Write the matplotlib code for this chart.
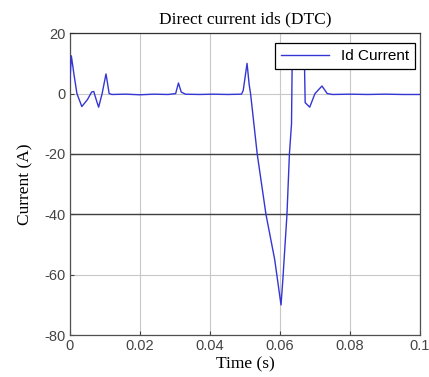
import matplotlib
matplotlib.use("Agg")
import matplotlib.pyplot as plt

plt.rcParams["axes.unicode_minus"] = False

# Data
t = [0.0, 0.0004, 0.0012, 0.002, 0.0034, 0.005, 0.0062, 0.0068, 0.0075, 0.0082,
     0.0092, 0.0103, 0.0108, 0.0112, 0.012, 0.016, 0.02, 0.024, 0.028,
     0.0302, 0.031, 0.0318, 0.033, 0.037, 0.041, 0.045, 0.049,
     0.0495, 0.0506, 0.0512, 0.0516, 0.0535, 0.056, 0.0585, 0.0603,
     0.0608, 0.0620, 0.0627, 0.0633, 0.0635, 0.0645, 0.066, 0.0670,
     0.0672, 0.0685, 0.0700, 0.0720, 0.0735, 0.075, 0.08, 0.085, 0.09, 0.095, 0.1]
id_current = [4, 12.5, 6, 0, -4.3, -2, 0.5, 0.7, -2, -4.5,
              0, 6.5, 3, 0, -0.3, -0.2, -0.4, -0.2, -0.3,
              0, 3.5, 0.5, -0.2, -0.3, -0.2, -0.3, -0.2,
              1, 10, 3, 0, -20, -40, -55, -70,
              -62, -40, -20, -10, 12, 16, 14, 10,
              -3, -4.5, 0, 2.5, 0, -0.3, -0.2, -0.3, -0.2, -0.3, -0.3]

xticks = [0, 0.02, 0.04, 0.06, 0.08, 0.1]
xticklabels = ["0", "0.02", "0.04", "0.06", "0.08", "0.1"]
yticks = [-80, -60, -40, -20, 0, 20]

fig = plt.figure(figsize=(4.29, 3.77), dpi=100)
ax = fig.add_axes([0.163, 0.111, 0.816, 0.801])

serif = ["Liberation Serif", "DejaVu Serif"]
sans = ["Liberation Sans", "DejaVu Sans"]

ax.plot(t, id_current, color="#3535d5", lw=1.0, label="Id Current", zorder=3)
ax.set_xlim(0, 0.1)
ax.set_ylim(-80, 20)
ax.set_xticks(xticks)
ax.set_xticklabels(xticklabels)
ax.set_yticks(yticks)
ax.grid(True, color="#c8c8c8", lw=0.8)
for yv in (-20, -40):
    ax.axhline(yv, color="#404040", lw=1.0, zorder=2)
ax.tick_params(direction="in", labelsize=10.5, colors="#404040", length=3, pad=3)
for lab in ax.get_xticklabels() + ax.get_yticklabels():
    lab.set_fontfamily(sans)
    lab.set_color("#444444")
for s in ax.spines.values():
    s.set_color("#505050")
    s.set_linewidth(0.9)
ax.spines["top"].set_color("#303030")

ax.set_title("Direct current ids (DTC)", fontsize=12.5, family=serif, pad=7)
ax.set_xlabel("Time (s)", fontsize=12.5, family=serif, labelpad=2)
ax.set_ylabel("Current (A)", fontsize=12.5, family=serif, labelpad=8)

leg = ax.legend(loc="upper right", bbox_to_anchor=(0.986, 0.967), fancybox=False,
                framealpha=1, edgecolor="black", borderaxespad=0,
                prop={"family": sans, "size": 11},
                handlelength=3.1, borderpad=0.4)
leg.get_frame().set_linewidth(0.9)
leg.set_zorder(5)

fig.savefig("out.png", dpi=100)
